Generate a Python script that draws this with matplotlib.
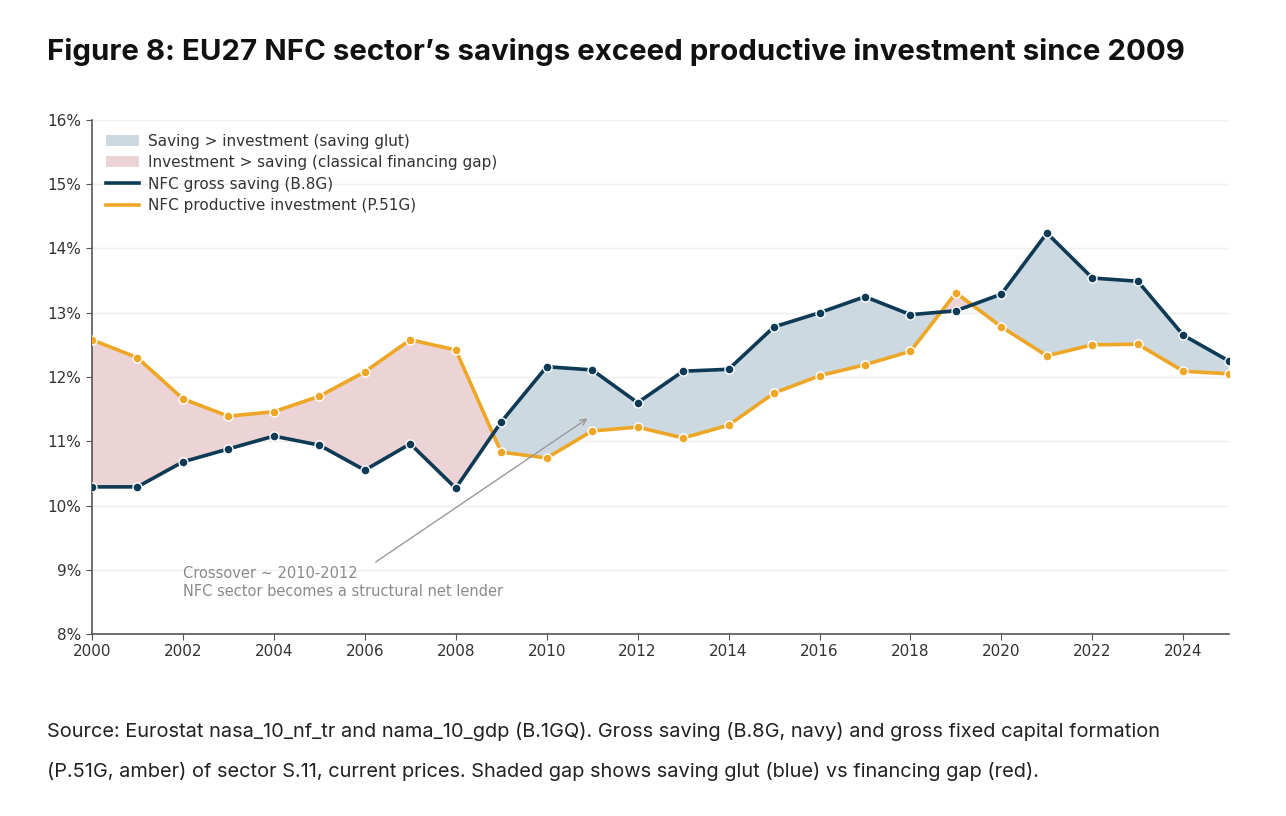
import numpy as np
import matplotlib
matplotlib.use("Agg")
import matplotlib.pyplot as plt
from matplotlib.patches import Patch
from matplotlib.lines import Line2D
from matplotlib.ticker import FuncFormatter

# data (% of GDP)
years = list(range(2000, 2026))
saving = [10.29, 10.29, 10.68, 10.88, 11.08, 10.94, 10.55, 10.96, 10.27, 11.30,
          12.16, 12.11, 11.60, 12.09, 12.12, 12.78, 13.00, 13.25, 12.97, 13.03,
          13.29, 14.24, 13.54, 13.49, 12.65, 12.25]
investment = [12.58, 12.30, 11.66, 11.39, 11.46, 11.70, 12.08, 12.58, 12.42, 10.83,
              10.74, 11.16, 11.22, 11.05, 11.25, 11.75, 12.02, 12.19, 12.40, 13.31,
              12.78, 12.33, 12.50, 12.51, 12.09, 12.05]
x_ticks = list(range(2000, 2026, 2))
y_ticks = list(range(8, 17))

navy = "#0e3a56"
amber = "#eea626"
glut_col = "#cdd9e0"
gap_col = "#ecd4d6"

fig = plt.figure(figsize=(12.86, 8.16), dpi=100)
ax = fig.add_axes([0.0715, 0.223, 0.884, 0.630])

x = np.array(years)
s = np.array(saving)
inv = np.array(investment)

ax.fill_between(x, s, inv, where=s >= inv, interpolate=True, color=glut_col, lw=0)
ax.fill_between(x, s, inv, where=s < inv, interpolate=True, color=gap_col, lw=0)
ax.plot(x, inv, color=amber, lw=2.6, marker="o", ms=6.5, mfc=amber, mec="white", mew=1.0, zorder=3)
ax.plot(x, s, color=navy, lw=2.6, marker="o", ms=6.5, mfc=navy, mec="white", mew=1.0, zorder=4)

ax.set_xlim(2000, 2025)
ax.set_ylim(8, 16)
ax.set_xticks(x_ticks)
ax.set_yticks(y_ticks)
ax.yaxis.set_major_formatter(FuncFormatter(lambda v, p: f"{v:.0f}%"))
ax.grid(axis="y", color="#efefef", lw=1)
ax.set_axisbelow(True)
for sp in ["top", "right"]:
    ax.spines[sp].set_visible(False)
for sp in ["left", "bottom"]:
    ax.spines[sp].set_color("#555555")
    ax.spines[sp].set_linewidth(1.2)
ax.tick_params(colors="#333333", labelsize=11, length=4, color="#555555")

ax.annotate("Crossover ~ 2010-2012\nNFC sector becomes a structural net lender",
            xy=(2010.95, 11.38), xytext=(2002.0, 8.55),
            fontsize=10.5, color="#8a8a8a", va="bottom", ha="left",
            arrowprops=dict(arrowstyle="->", color="#999999", lw=1,
                            relpos=(0.59, 1.05)))

handles = [Patch(facecolor=glut_col, label="Saving > investment (saving glut)"),
           Patch(facecolor=gap_col, label="Investment > saving (classical financing gap)"),
           Line2D([], [], color=navy, lw=2.6, label="NFC gross saving (B.8G)"),
           Line2D([], [], color=amber, lw=2.6, label="NFC productive investment (P.51G)")]
leg = ax.legend(handles=handles, loc="upper left", frameon=False, fontsize=11,
                handlelength=2.2, handletextpad=0.6, labelspacing=0.42,
                bbox_to_anchor=(0.0, 1.0))
for t in leg.get_texts():
    t.set_color("#333333")

fig.text(0.0365, 0.936, "Figure 8: EU27 NFC sector\u2019s savings exceed productive investment since 2009",
         fontsize=21.2, fontweight="bold", family="Inter", color="#111111", va="center")
fig.text(0.0365, 0.103,
         "Source: Eurostat nasa_10_nf_tr and nama_10_gdp (B.1GQ). Gross saving (B.8G, navy) and gross fixed capital formation",
         fontsize=14.4, family="Inter", color="#222222", va="center")
fig.text(0.0365, 0.054,
         "(P.51G, amber) of sector S.11, current prices. Shaded gap shows saving glut (blue) vs financing gap (red).",
         fontsize=14.4, family="Inter", color="#222222", va="center")

fig.savefig("out.png", dpi=100, facecolor="white")
